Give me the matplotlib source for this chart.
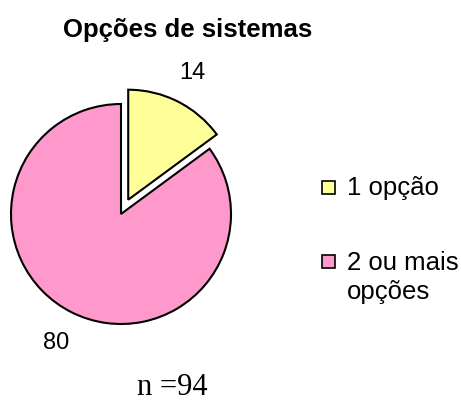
import matplotlib.pyplot as plt
from matplotlib.patches import Rectangle

# data
labels = ['1 opção', '2 ou mais\nopções']
values = [14, 80]
colors = ['#FFFF99', '#FF99CC']
title = 'Opções de sistemas'
n_text = 'n =94'

plt.rcParams['font.family'] = ['Liberation Sans', 'DejaVu Sans']

fig = plt.figure(figsize=(4.61, 4.02), dpi=100)
ax = fig.add_axes([0, 0, 1, 1])

# pie in pixel coords (y up); explode is absolute in data units here
wedges, texts = ax.pie(values, labels=[str(v) for v in values], colors=colors,
                       startangle=90, counterclock=False, explode=[16, 0],
                       center=(121, 187), radius=110, labeldistance=1.3,
                       wedgeprops=dict(edgecolor='black', linewidth=1.5),
                       textprops=dict(fontsize=17), frame=True)
for t in texts:
    t.set_ha('center')
    t.set_va('center')
ax.set_xlim(0, 461)
ax.set_ylim(0, 402)
ax.set_aspect('equal')
ax.axis('off')

ax.text(188, 372, title, fontsize=18.5, fontweight='bold', ha='center', va='center')

# legend drawn by hand
ly = [213.5, 139.5]
for i in range(len(values)):
    ax.add_patch(Rectangle((322, ly[i] - 6.5), 13, 13, facecolor=colors[i],
                           edgecolor='black', linewidth=1.2))
ax.text(347, ly[0], labels[0], fontsize=18.5, ha='left', va='center')
ax.text(347, ly[1] + 11, labels[1], fontsize=18.5, ha='left', va='top', linespacing=1.25)

ax.text(172, 14, n_text, fontsize=22, family=['Liberation Serif'], ha='center', va='center')

fig.savefig('out.png', dpi=100)
